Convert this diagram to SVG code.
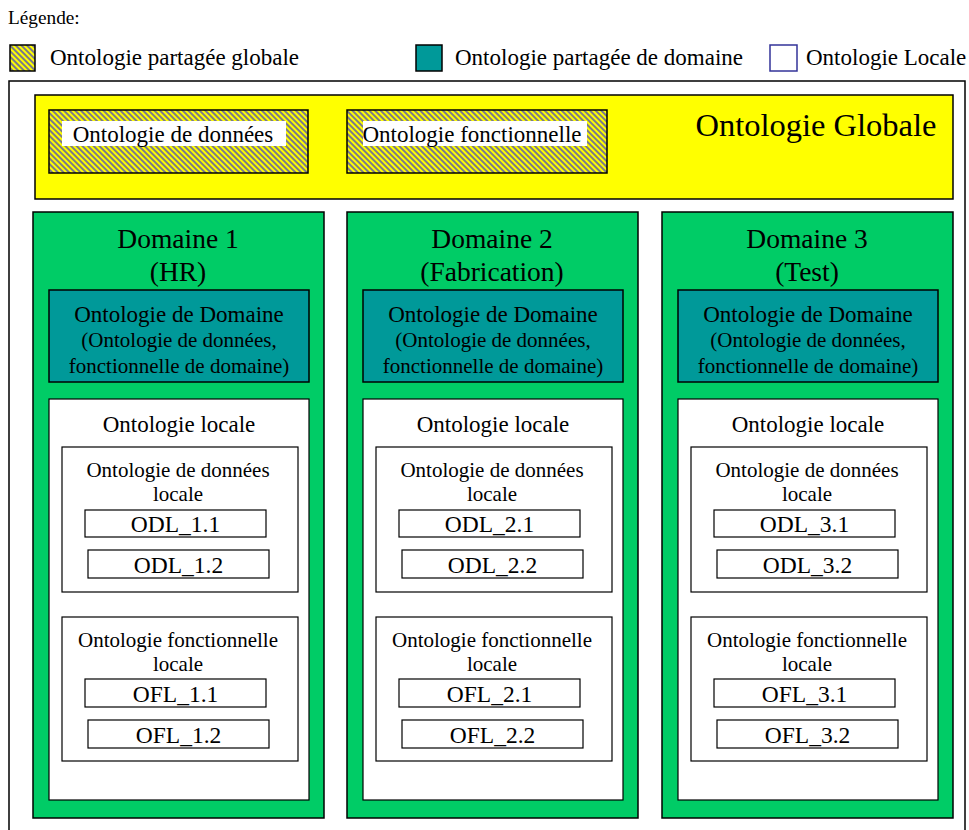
<svg xmlns="http://www.w3.org/2000/svg" width="969" height="830" viewBox="0 0 969 830">
<defs>
<pattern id="hatch" width="4" height="4" patternUnits="userSpaceOnUse" patternTransform="rotate(45)">
<rect width="4" height="4" fill="#ffff00"/>
<rect width="4" height="2" fill="#7a7a8c"/>
</pattern>
</defs>
<style>
text{font-family:"Liberation Serif","Times New Roman",serif;fill:#000}
.c{text-anchor:middle}
.frame{fill:#fff;stroke:#000;stroke-width:1.5}
.glob{fill:#ffff00;stroke:#000;stroke-width:1.5}
.hat{fill:url(#hatch);stroke:#000;stroke-width:1.5}
.dom{fill:#00cc66;stroke:#000;stroke-width:1.5}
.teal{fill:#009999;stroke:#000;stroke-width:1.5}
.box{fill:#fff;stroke:#000;stroke-width:1.2}
.t28{font-size:32.5px}
.t24{font-size:27.5px}
.t20{font-size:23px}
.t18{font-size:21px}
.t22{font-size:23.5px}
</style>

<g id="legend">
<text x="8" y="24" font-size="19.3">Légende:</text>
<rect x="10" y="45" width="25" height="26" class="hat"/>
<text x="50" y="65" class="t20">Ontologie partagée globale</text>
<rect x="416" y="45" width="26" height="26" class="teal"/>
<text x="455" y="65" class="t20">Ontologie partagée de domaine</text>
<rect x="770" y="45" width="27" height="26" fill="#fff" stroke="#333399" stroke-width="1.5"/>
<text x="806" y="65" class="t20">Ontologie Locale</text>
</g>

<rect x="9" y="81" width="956" height="760" class="frame"/>

<g id="global">
<rect x="35" y="95" width="918" height="104" class="glob"/>
<text x="816" y="136" class="c t28">Ontologie Globale</text>
</g>
<g id="global-data">
<rect x="49" y="110" width="259" height="63" class="hat"/>
<rect x="62" y="121" width="224" height="25" fill="#fff"/>
<text x="173" y="142" class="c t20">Ontologie de données</text>
</g>
<g id="global-func">
<rect x="347" y="110" width="260" height="63" class="hat"/>
<rect x="363" y="121" width="224" height="25" fill="#fff"/>
<text x="472" y="142" class="c t20">Ontologie fonctionnelle</text>
</g>

<g id="domain1">
<rect x="33" y="212" width="291" height="606" class="dom"/>
<text x="178" y="248" class="c t24">Domaine 1</text>
<text x="178" y="281" class="c t24">(HR)</text>
</g>
<g id="domain1-shared">
<rect x="49" y="290" width="260" height="92" class="teal"/>
<text x="179" y="322" class="c t20">Ontologie de Domaine</text>
<text x="179" y="347" class="c t18">(Ontologie de données,</text>
<text x="179" y="373" class="c t18">fonctionnelle de domaine)</text>
</g>
<g id="domain1-local">
<rect x="49" y="399" width="260" height="401" class="box"/>
<text x="179" y="432" class="c t20">Ontologie locale</text>
</g>
<g id="domain1-odl">
<rect x="62" y="447" width="236" height="145" class="box"/>
<text x="178" y="477" class="c t18">Ontologie de données</text>
<text x="178" y="501" class="c t18">locale</text>
</g>
<g id="ODL_1.1"><rect x="85" y="510" width="181" height="27" class="box"/><text x="175.5" y="532" class="c t22">ODL_1.1</text></g>
<g id="ODL_1.2"><rect x="88" y="550" width="181" height="28" class="box"/><text x="178.5" y="573" class="c t22">ODL_1.2</text></g>
<g id="domain1-ofl">
<rect x="62" y="617" width="236" height="144" class="box"/>
<text x="178" y="647" class="c t18">Ontologie fonctionnelle</text>
<text x="178" y="671" class="c t18">locale</text>
</g>
<g id="OFL_1.1"><rect x="85" y="679" width="181" height="28" class="box"/><text x="175.5" y="702" class="c t22">OFL_1.1</text></g>
<g id="OFL_1.2"><rect x="88" y="720" width="181" height="28" class="box"/><text x="178.5" y="743" class="c t22">OFL_1.2</text></g>

<g id="domain2">
<rect x="347" y="212" width="291" height="606" class="dom"/>
<text x="492" y="248" class="c t24">Domaine 2</text>
<text x="492" y="281" class="c t24">(Fabrication)</text>
</g>
<g id="domain2-shared">
<rect x="363" y="290" width="260" height="92" class="teal"/>
<text x="493" y="322" class="c t20">Ontologie de Domaine</text>
<text x="493" y="347" class="c t18">(Ontologie de données,</text>
<text x="493" y="373" class="c t18">fonctionnelle de domaine)</text>
</g>
<g id="domain2-local">
<rect x="363" y="399" width="260" height="401" class="box"/>
<text x="493" y="432" class="c t20">Ontologie locale</text>
</g>
<g id="domain2-odl">
<rect x="376" y="447" width="236" height="145" class="box"/>
<text x="492" y="477" class="c t18">Ontologie de données</text>
<text x="492" y="501" class="c t18">locale</text>
</g>
<g id="ODL_2.1"><rect x="399" y="510" width="181" height="27" class="box"/><text x="489.5" y="532" class="c t22">ODL_2.1</text></g>
<g id="ODL_2.2"><rect x="402" y="550" width="181" height="28" class="box"/><text x="492.5" y="573" class="c t22">ODL_2.2</text></g>
<g id="domain2-ofl">
<rect x="376" y="617" width="236" height="144" class="box"/>
<text x="492" y="647" class="c t18">Ontologie fonctionnelle</text>
<text x="492" y="671" class="c t18">locale</text>
</g>
<g id="OFL_2.1"><rect x="399" y="679" width="181" height="28" class="box"/><text x="489.5" y="702" class="c t22">OFL_2.1</text></g>
<g id="OFL_2.2"><rect x="402" y="720" width="181" height="28" class="box"/><text x="492.5" y="743" class="c t22">OFL_2.2</text></g>

<g id="domain3">
<rect x="662" y="212" width="291" height="606" class="dom"/>
<text x="807" y="248" class="c t24">Domaine 3</text>
<text x="807" y="281" class="c t24">(Test)</text>
</g>
<g id="domain3-shared">
<rect x="678" y="290" width="260" height="92" class="teal"/>
<text x="808" y="322" class="c t20">Ontologie de Domaine</text>
<text x="808" y="347" class="c t18">(Ontologie de données,</text>
<text x="808" y="373" class="c t18">fonctionnelle de domaine)</text>
</g>
<g id="domain3-local">
<rect x="678" y="399" width="260" height="401" class="box"/>
<text x="808" y="432" class="c t20">Ontologie locale</text>
</g>
<g id="domain3-odl">
<rect x="691" y="447" width="236" height="145" class="box"/>
<text x="807" y="477" class="c t18">Ontologie de données</text>
<text x="807" y="501" class="c t18">locale</text>
</g>
<g id="ODL_3.1"><rect x="714" y="510" width="181" height="27" class="box"/><text x="804.5" y="532" class="c t22">ODL_3.1</text></g>
<g id="ODL_3.2"><rect x="717" y="550" width="181" height="28" class="box"/><text x="807.5" y="573" class="c t22">ODL_3.2</text></g>
<g id="domain3-ofl">
<rect x="691" y="617" width="236" height="144" class="box"/>
<text x="807" y="647" class="c t18">Ontologie fonctionnelle</text>
<text x="807" y="671" class="c t18">locale</text>
</g>
<g id="OFL_3.1"><rect x="714" y="679" width="181" height="28" class="box"/><text x="804.5" y="702" class="c t22">OFL_3.1</text></g>
<g id="OFL_3.2"><rect x="717" y="720" width="181" height="28" class="box"/><text x="807.5" y="743" class="c t22">OFL_3.2</text></g>

<g id="connectors"/>
</svg>
